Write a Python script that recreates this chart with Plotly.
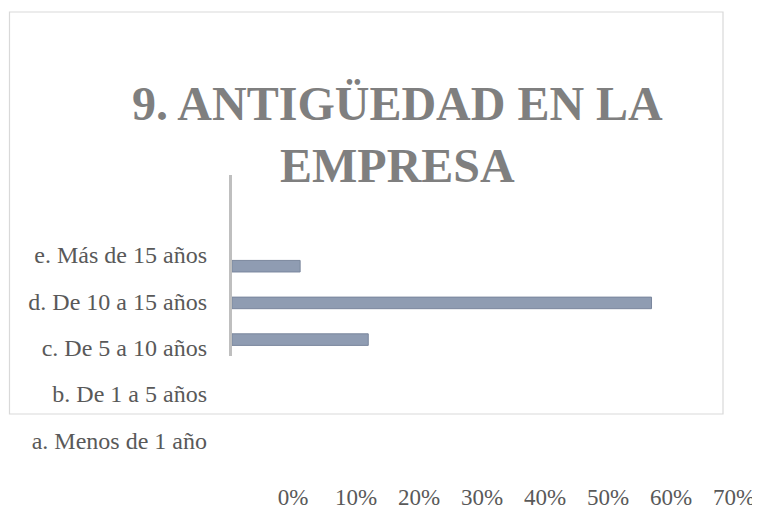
import plotly.graph_objects as go

# Data
categories = ["a. Menos de 1 año", "b. De 1 a 5 años", "c. De 5 a 10 años",
              "d. De 10 a 15 años", "e. Más de 15 años"]
values = [0.0, 0.0, 0.19, 0.585, 0.095]
tick_vals = [0, 0.1, 0.2, 0.3, 0.4, 0.5, 0.6, 0.7]
title_text = "9. ANTIGÜEDAD EN LA<br>EMPRESA"

W, H = 760, 510
OFF = 8  # page body margin offset


def px(x):
    return (x - OFF) / W


def py(y):
    return 1 - (y - OFF) / H


fig = go.Figure()

fig.add_trace(go.Bar(
    x=values, y=categories, orientation="h",
    xaxis="x2", yaxis="y2",
    marker=dict(color="#8F9CB2", line=dict(color="#7A879D", width=1)),
    width=0.315, hoverinfo="skip", showlegend=False,
))

fig.add_trace(go.Scatter(
    x=values, y=categories, mode="markers",
    marker=dict(opacity=0), xaxis="x", yaxis="y",
    hoverinfo="skip", showlegend=False,
))

font_family = "Liberation Serif"

fig.update_layout(
    width=W, height=H, autosize=False,
    margin=dict(l=0, r=0, t=0, b=0, pad=0, autoexpand=False),
    paper_bgcolor="white", plot_bgcolor="rgba(0,0,0,0)",
    font=dict(family=font_family, color="#595959"),
    xaxis=dict(
        domain=[px(293), px(734)], range=[0, 0.7],
        tickvals=tick_vals, tickformat=".0%",
        anchor="free", position=py(480.5),
        showline=False, showgrid=False, zeroline=False, ticks="",
        tickfont=dict(size=23, color="#595959", family=font_family),
        automargin=False, fixedrange=True,
    ),
    yaxis=dict(
        domain=[py(463.5), py(231.5)], type="category",
        categoryorder="array", categoryarray=categories, range=[-0.5, 4.5],
        anchor="free", position=px(207),
        showline=False, showgrid=False, zeroline=False, ticks="",
        tickfont=dict(size=24, color="#595959", family=font_family),
        automargin=False, fixedrange=True,
    ),
    xaxis2=dict(
        domain=[px(232), px(734)], range=[0, 0.7],
        anchor="y2", visible=False, fixedrange=True,
    ),
    yaxis2=dict(
        domain=[py(356), py(175)], type="category",
        categoryorder="array", categoryarray=categories,
        range=[1.553, 6.485], anchor="x2",
        showline=True, linecolor="#BFBFBF", linewidth=3,
        showticklabels=False, ticks="", showgrid=False, zeroline=False,
        automargin=False, fixedrange=True,
    ),
    shapes=[dict(
        type="rect", xref="paper", yref="paper",
        x0=px(9.5), x1=px(723), y0=py(414), y1=py(12),
        line=dict(color="#D9D9D9", width=1.2), fillcolor="rgba(0,0,0,0)",
        layer="below",
    )],
    annotations=[dict(
        text=title_text, xref="paper", yref="paper",
        x=px(397), y=py(134), xanchor="center", yanchor="middle",
        showarrow=False, align="center",
        font=dict(family=font_family, size=48, color="#7F7F7F", weight="bold"),
    )],
)

fig.write_html("out.html")
